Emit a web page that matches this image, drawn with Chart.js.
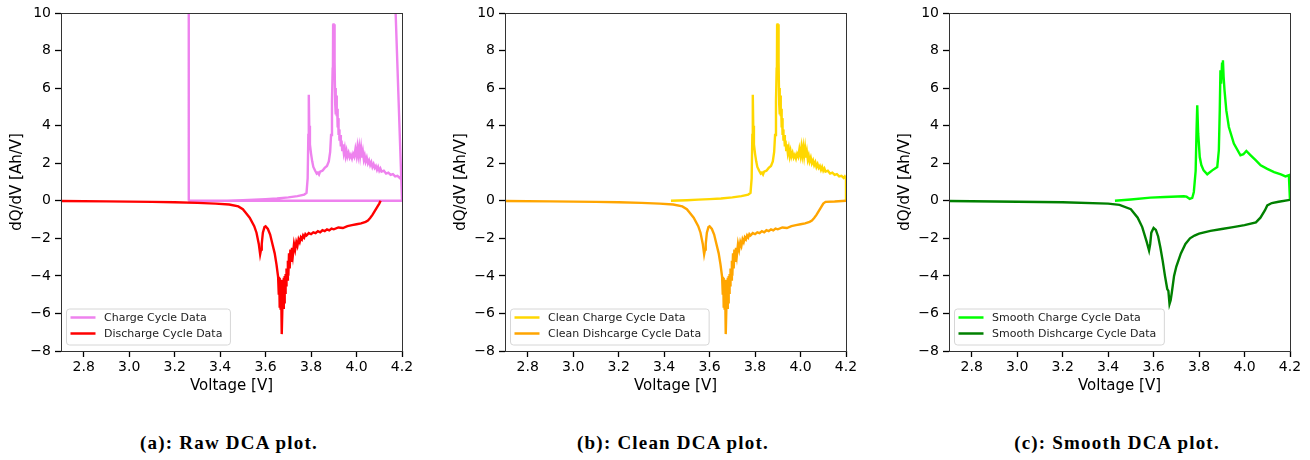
<!DOCTYPE html>
<html>
<head>
<meta charset="utf-8">
<script src="https://cdn.jsdelivr.net/npm/chart.js@4.4.1/dist/chart.umd.min.js"></script>
<style>
  html, body { margin: 0; padding: 0; background: #fff; }
  body { width: 1310px; height: 460px; position: relative; overflow: hidden; }
  .panel { position: absolute; top: 0; width: 420px; height: 400px; }
  .caption { position: absolute; top: 431px; width: 300px; line-height: 24px; text-align: center;
    font-family: 'Liberation Serif', serif; font-weight: bold; font-size: 19px; letter-spacing: 1.2px; color: #000; }
</style>
</head>
<body>
<div class="panel" style="left:0px"><canvas id="rawChart" width="420" height="400"></canvas></div>
<div class="panel" style="left:444px"><canvas id="cleanChart" width="420" height="400"></canvas></div>
<div class="panel" style="left:888px"><canvas id="smoothChart" width="420" height="400"></canvas></div>
<div class="caption" style="left:79px">(a): Raw DCA plot.</div>
<div class="caption" style="left:523px">(b): Clean DCA plot.</div>
<div class="caption" style="left:967px">(c): Smooth DCA plot.</div>
<script>
// axis ticks
var voltTicks = [2.8, 3.0, 3.2, 3.4, 3.6, 3.8, 4.0, 4.2];
var dqdvTicks = [-8, -6, -4, -2, 0, 2, 4, 6, 8, 10];

// charge cycle, measured part (shared by raw and clean)
var chargeV = [3.43, 3.5, 3.55, 3.6, 3.65, 3.7, 3.74, 3.77, 3.78, 3.785, 3.788, 3.79, 3.792, 3.795, 3.8, 3.805, 3.81, 3.818, 3.825, 3.83,
  3.835, 3.84, 3.85, 3.86, 3.87, 3.878, 3.884, 3.888, 3.892, 3.895, 3.896, 3.897, 3.898, 3.899, 3.9, 3.901, 3.902, 3.903, 3.904, 3.905,
  3.906, 3.908, 3.909, 3.911, 3.913, 3.915, 3.917, 3.919, 3.921, 3.923, 3.925, 3.928, 3.931, 3.934, 3.937, 3.94, 3.944, 3.948, 3.952, 3.956,
  3.96, 3.965, 3.97, 3.975, 3.98, 3.985, 3.99, 3.995, 4.0, 4.004, 4.008, 4.012, 4.016, 4.02, 4.024, 4.028, 4.032, 4.036, 4.04, 4.045,
  4.05, 4.055, 4.06, 4.065, 4.07, 4.075, 4.08, 4.085, 4.09, 4.095, 4.1, 4.105, 4.11, 4.12, 4.13, 4.14, 4.15, 4.16, 4.17, 4.18,
  4.19, 4.195, 4.2];
var chargeQ = [0.0, 0.03, 0.06, 0.09, 0.12, 0.18, 0.25, 0.33, 0.42, 1.2, 3.5, 5.65, 4.0, 3.0, 2.5, 2.1, 1.8, 1.6, 1.45, 1.5,
  1.4, 1.55, 1.6, 1.75, 1.85, 2.1, 2.6, 3.5, 5.3, 7.1, 6.8, 9.4, 7.2, 9.45, 7.0, 9.4, 7.5, 9.3, 6.5, 7.4,
  5.2, 6.0, 4.6, 5.6, 4.5, 4.9, 3.9, 4.4, 3.5, 3.8, 3.2, 3.5, 2.9, 3.2, 2.7, 3.0, 2.55, 2.8, 2.4, 2.65,
  2.35, 2.55, 2.3, 2.45, 2.25, 2.5, 2.35, 2.75, 2.4, 2.85, 2.45, 2.85, 2.4, 2.8, 2.3, 2.6, 2.2, 2.4, 2.1, 2.3,
  2.0, 2.15, 1.9, 2.05, 1.8, 1.95, 1.75, 1.85, 1.65, 1.8, 1.6, 1.72, 1.55, 1.6, 1.45, 1.5, 1.38, 1.42, 1.3, 1.33,
  1.22, 1.3, 1.2];

// raw charge extra samples (logging glitch at the ends)
var rawChargeTailV = [4.2, 3.26, 3.262, 4.144, 4.2];
var rawChargeTailQ = [0.0, 0.0, 20, 20, 0.0];
var cleanChargeTailV = [4.2];
var cleanChargeTailQ = [0.0];

// discharge cycle (shared part)
var dischargeV = [2.7, 2.9, 3.1, 3.2, 3.3, 3.38, 3.44, 3.48, 3.5, 3.51, 3.53, 3.55, 3.56, 3.57, 3.576, 3.58, 3.583, 3.588, 3.595, 3.6,
  3.61, 3.62, 3.63, 3.64, 3.648, 3.655, 3.658, 3.66, 3.662, 3.664, 3.666, 3.668, 3.67, 3.672, 3.674, 3.676, 3.678, 3.68, 3.682, 3.684,
  3.686, 3.688, 3.69, 3.692, 3.695, 3.698, 3.7, 3.703, 3.706, 3.709, 3.712, 3.716, 3.72, 3.725, 3.73, 3.735, 3.74, 3.745, 3.75, 3.755,
  3.76, 3.765, 3.77, 3.775, 3.78, 3.79, 3.8, 3.81, 3.82, 3.83, 3.84, 3.85, 3.86, 3.87, 3.88, 3.89, 3.9, 3.92, 3.94, 3.96,
  3.98, 4.0, 4.02, 4.04, 4.05, 4.06, 4.07, 4.08, 4.09, 4.1];
var dischargeQ = [-0.01, -0.03, -0.06, -0.08, -0.11, -0.15, -0.2, -0.3, -0.45, -0.6, -0.9, -1.35, -1.7, -2.3, -2.85, -2.6, -2.3, -1.7, -1.4, -1.36,
  -1.5, -1.8, -2.3, -2.8, -3.4, -4.05, -5.0, -4.1, -5.7, -4.2, -5.8, -4.3, -5.7, -7.1, -5.6, -4.2, -5.7, -4.1, -5.4, -4.0,
  -4.9, -3.9, -4.5, -3.6, -4.2, -3.2, -4.0, -2.8, -3.6, -2.6, -3.2, -2.5, -2.9, -2.3, -2.6, -2.2, -2.4, -2.05, -2.2, -1.95,
  -2.05, -1.85, -1.95, -1.78, -1.85, -1.72, -1.78, -1.68, -1.72, -1.62, -1.68, -1.57, -1.62, -1.52, -1.58, -1.48, -1.52, -1.42, -1.45, -1.35,
  -1.3, -1.25, -1.2, -1.12, -1.05, -0.92, -0.75, -0.55, -0.35, -0.15];
var rawDischargeTailV = [4.106];
var rawDischargeTailQ = [0.0];
var cleanDischargeTailV = [4.11, 4.15, 4.2];
var cleanDischargeTailQ = [-0.06, -0.04, 0.0];

// smoothed curves
var smoothChargeV = [3.43, 3.5, 3.586, 3.65, 3.733, 3.745, 3.759, 3.77, 3.777, 3.785, 3.789, 3.792, 3.796, 3.803, 3.81, 3.82, 3.836, 3.858, 3.88, 3.887,
  3.891, 3.894, 3.897, 3.901, 3.905, 3.908, 3.912, 3.92, 3.931, 3.953, 3.982, 3.995, 4.008, 4.027, 4.05, 4.071, 4.1, 4.13, 4.16, 4.18,
  4.195, 4.2];
var smoothChargeQ = [0.0, 0.07, 0.17, 0.2, 0.24, 0.22, 0.1, 0.15, 0.47, 1.6, 3.8, 5.08, 3.6, 2.33, 1.9, 1.62, 1.41, 1.62, 1.8, 2.69,
  4.8, 6.95, 6.24, 7.3, 7.48, 6.6, 5.88, 4.8, 3.93, 3.05, 2.42, 2.48, 2.65, 2.42, 2.15, 1.89, 1.7, 1.53, 1.4, 1.3,
  1.36, 0.0];
var smoothDischargeV = [2.7, 3.0, 3.2, 3.4, 3.45, 3.5, 3.53, 3.55, 3.57, 3.58, 3.585, 3.59, 3.6, 3.61, 3.62, 3.63, 3.64, 3.65, 3.66, 3.665,
  3.67, 3.675, 3.68, 3.69, 3.7, 3.72, 3.74, 3.76, 3.78, 3.8, 3.85, 3.9, 3.95, 4.0, 4.05, 4.07, 4.09, 4.1, 4.12, 4.15,
  4.2];
var smoothDischargeQ = [-0.01, -0.05, -0.08, -0.15, -0.22, -0.45, -0.9, -1.4, -2.2, -2.65, -2.3, -1.7, -1.45, -1.55, -1.9, -2.5, -3.2, -4.0, -4.7, -4.8,
  -5.5, -5.3, -4.9, -4.0, -3.5, -2.8, -2.3, -2.0, -1.85, -1.75, -1.6, -1.5, -1.4, -1.3, -1.15, -0.9, -0.5, -0.25, -0.12, -0.05,
  0.05];

Chart.defaults.font.family = "'DejaVu Sans', sans-serif";

function pts(vs, qs) {
  return vs.map(function(v, i) { return { x: v, y: qs[i] }; });
}

function minusFmt(v) {
  return v < 0 ? '\u2212' + Math.abs(v) : String(v);
}

var frameAndLegend = {
  id: 'insetLegend',
  afterDatasetsDraw: function(chart, args, opts) {
    var a = chart.chartArea;
    var ctx = chart.ctx;
    ctx.save();
    ctx.strokeStyle = '#333';
    ctx.lineWidth = 1;
    ctx.strokeRect(Math.round(a.left) + 0.5, Math.round(a.top) + 0.5, Math.round(a.right - a.left), Math.round(a.bottom - a.top));

    ctx.font = "11px 'DejaVu Sans'";
    var w = 0;
    opts.items.forEach(function(it) { w = Math.max(w, ctx.measureText(it.text).width); });
    var bx = a.left + 5.5, by = a.bottom - 42, bw = 4 + 25 + 8.5 + w + 8, bh = 36;
    ctx.fillStyle = 'rgba(255,255,255,0.85)';
    ctx.strokeStyle = '#d6d6d6';
    ctx.beginPath();
    ctx.roundRect(bx, by, bw, bh, 3);
    ctx.fill();
    ctx.stroke();
    opts.items.forEach(function(it, i) {
      var yy = by + 8.5 + i * 16;
      ctx.strokeStyle = it.color;
      ctx.lineWidth = 2.5;
      ctx.beginPath();
      ctx.moveTo(bx + 4, yy);
      ctx.lineTo(bx + 29, yy);
      ctx.stroke();
      ctx.fillStyle = '#222';
      ctx.textBaseline = 'middle';
      ctx.textAlign = 'left';
      ctx.fillText(it.text, bx + 37.5, yy + 0.5);
    });
    ctx.restore();
  }
};

function makeChart(id, datasets, legendItems) {
  return new Chart(document.getElementById(id), {
    type: 'line',
    data: { datasets: datasets },
    options: {
      responsive: false,
      animation: false,
      layout: { padding: { top: 13, right: 18, bottom: 0, left: 0 } },
      elements: { point: { radius: 0 }, line: { borderWidth: 2.4, tension: 0 } },
      plugins: {
        legend: { display: false },
        tooltip: { enabled: false },
        insetLegend: { items: legendItems }
      },
      scales: {
        x: {
          type: 'linear', min: 2.7, max: 4.2,
          afterFit: function(s) { s.height = 49; },
          afterBuildTicks: function(s) { s.ticks = voltTicks.map(function(v) { return { value: v }; }); },
          ticks: { autoSkip: false, maxRotation: 0, color: '#000', padding: 2, font: { size: 14 },
            callback: function(v) { return v.toFixed(1); } },
          grid: { drawOnChartArea: false, tickLength: 6, tickColor: '#000', tickWidth: 1.3 },
          border: { display: false },
          title: { display: true, text: 'Voltage [V]', color: '#000', font: { size: 15 }, padding: { top: 0, bottom: 5 } }
        },
        y: {
          type: 'linear', min: -8, max: 10,
          afterFit: function(s) { s.width = 61; },
          afterBuildTicks: function(s) { s.ticks = dqdvTicks.map(function(v) { return { value: v }; }); },
          ticks: { autoSkip: false, color: '#000', padding: 4, font: { size: 14 }, callback: minusFmt },
          grid: { drawOnChartArea: false, tickLength: 6, tickColor: '#000', tickWidth: 1.3 },
          border: { display: false },
          title: { display: true, text: 'dQ/dV [Ah/V]', color: '#000', font: { size: 15 }, padding: { top: 8, bottom: 0 } }
        }
      }
    },
    plugins: [frameAndLegend]
  });
}

makeChart('rawChart', [
  { label: 'Charge Cycle Data', data: pts(chargeV.concat(rawChargeTailV), chargeQ.concat(rawChargeTailQ)), borderColor: 'violet', order: 1 },
  { label: 'Discharge Cycle Data', data: pts(dischargeV.concat(rawDischargeTailV), dischargeQ.concat(rawDischargeTailQ)), borderColor: 'red', order: 0 }
], [{ text: 'Charge Cycle Data', color: 'violet' }, { text: 'Discharge Cycle Data', color: 'red' }]);

makeChart('cleanChart', [
  { label: 'Clean Charge Cycle Data', data: pts(chargeV.concat(cleanChargeTailV), chargeQ.concat(cleanChargeTailQ)), borderColor: 'gold', order: 1 },
  { label: 'Clean Dishcarge Cycle Data', data: pts(dischargeV.concat(cleanDischargeTailV), dischargeQ.concat(cleanDischargeTailQ)), borderColor: 'orange', order: 0 }
], [{ text: 'Clean Charge Cycle Data', color: 'gold' }, { text: 'Clean Dishcarge Cycle Data', color: 'orange' }]);

makeChart('smoothChart', [
  { label: 'Smooth Charge Cycle Data', data: pts(smoothChargeV, smoothChargeQ), borderColor: 'lime', order: 1 },
  { label: 'Smooth Dishcarge Cycle Data', data: pts(smoothDischargeV, smoothDischargeQ), borderColor: 'green', order: 0 }
], [{ text: 'Smooth Charge Cycle Data', color: 'lime' }, { text: 'Smooth Dishcarge Cycle Data', color: 'green' }]);
</script>
</body>
</html>
